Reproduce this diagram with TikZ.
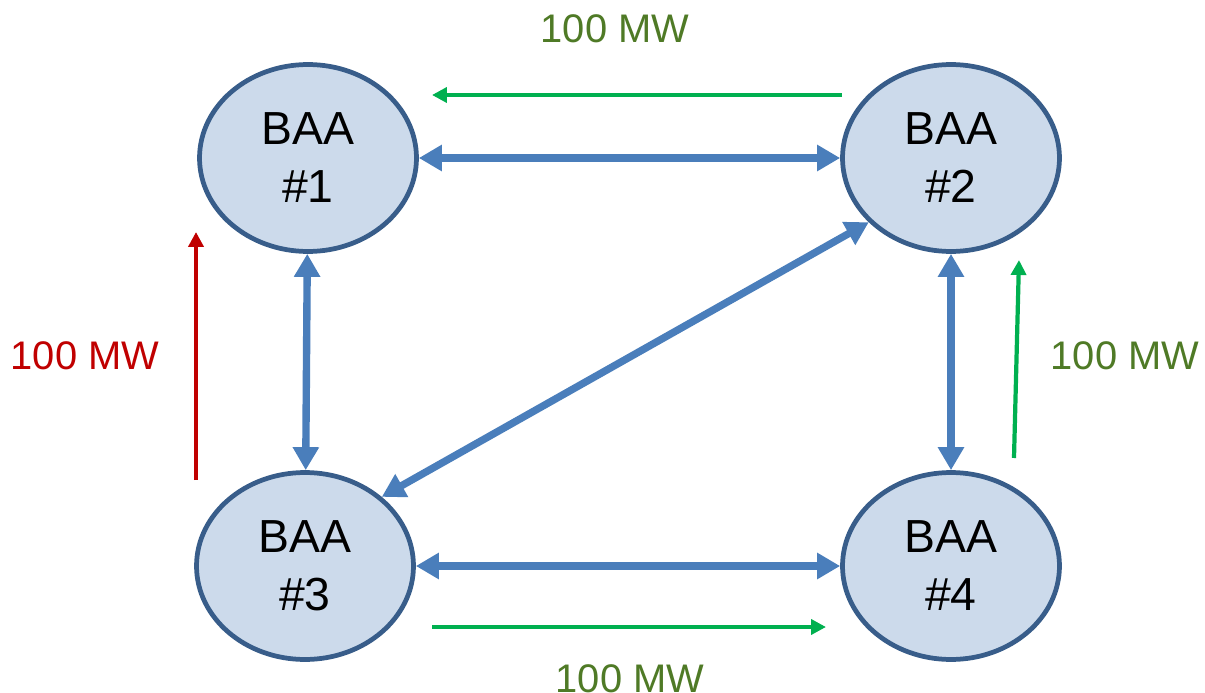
\documentclass[tikz,border=0pt]{standalone}
\usepackage{fontspec}
\setmainfont{Liberation Sans}
\usetikzlibrary{positioning,shapes,arrows.meta}

\definecolor{baafill}{RGB}{204,218,235}
\definecolor{baaline}{RGB}{56,93,138}
\definecolor{tieblue}{RGB}{74,126,187}
\definecolor{flowgreen}{RGB}{0,176,80}
\definecolor{flowred}{RGB}{192,0,0}
\definecolor{mwgreen}{RGB}{79,122,38}

\tikzset{
	baa/.style={ellipse, draw=baaline, fill=baafill, line width=2.7pt,
		minimum width=4.34cm, minimum height=3.74cm, align=center,
		font=\fontsize{26.4}{33}\selectfont},
	tie/.style={tieblue, line width=4.2pt, {Triangle[length=0.46cm,width=0.5cm]}-{Triangle[length=0.46cm,width=0.5cm]}},
	flow/.style={line width=2.4pt, -{Triangle[length=0.3cm,width=0.3cm]}},
	mw/.style={font=\fontsize{22.7}{27}\selectfont}
}

\begin{document}
\begin{tikzpicture}[x=0.02cm, y=-0.02cm]
	\useasboundingbox (0,0) rectangle (1205,693);

	\node[baa] (B1) at (308, 158) {BAA\\\#1};
	\node[baa] (B2) at (951, 158) {BAA\\\#2};
	\node[baa] (B3) at (305, 566) {BAA\\\#3};
	\node[baa] (B4) at (951, 566) {BAA\\\#4};

	% tie lines between the areas
	\draw[tie] (B1) -- (B2);
	\draw[tie] (B1) -- (B3);
	\draw[tie] (B2) -- (B4);
	\draw[tie] (B3) -- (B4);
	\draw[tie] (B2.218) -- (B3.42);

	% scheduled flows
	\coordinate (f12a) at (842, 95);
	\coordinate (f12b) at (432, 95);
	\coordinate (f42a) at (1014, 458);
	\coordinate (f42b) at (1019, 260);
	\coordinate (f34a) at (432, 627);
	\coordinate (f34b) at (826, 627);
	\coordinate (f31a) at (196, 480);
	\coordinate (f31b) at (196, 232);
	\draw[flow, flowgreen] (f12a) -- (f12b);
	\draw[flow, flowgreen] (f42a) -- (f42b);
	\draw[flow, flowgreen] (f34a) -- (f34b);
	\draw[flow, flowred] (f31a) -- (f31b);

	\node[mw, mwgreen] (mw12) at (615, 29) {100 MW};
	\node[mw, mwgreen] (mw42) at (1125, 356) {100 MW};
	\node[mw, mwgreen] (mw34) at (630, 679) {100 MW};
	\node[mw, flowred] (mw31) at (85, 356) {100 MW};
\end{tikzpicture}
\end{document}
